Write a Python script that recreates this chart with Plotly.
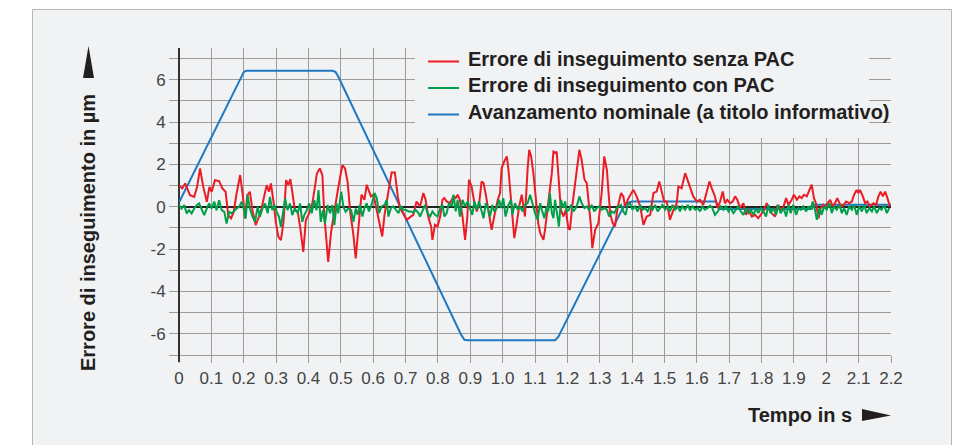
import plotly.graph_objects as go

# ---- data -------------------------------------------------------------
# following error without PAC (red), time in s, error in µm
t_red = [0.000, 0.010, 0.019, 0.027, 0.034, 0.047, 0.056, 0.065, 0.075, 0.086,
         0.094, 0.101, 0.111, 0.124, 0.134, 0.144, 0.152, 0.161, 0.169, 0.178,
         0.189, 0.197, 0.204, 0.211, 0.219, 0.227, 0.237, 0.247, 0.255, 0.264,
         0.271, 0.278, 0.284, 0.292, 0.299, 0.307, 0.315, 0.323, 0.331, 0.338,
         0.344, 0.350, 0.358, 0.367, 0.375, 0.384, 0.392, 0.402, 0.412, 0.420,
         0.426, 0.435, 0.443, 0.449, 0.456, 0.461, 0.470, 0.480, 0.490, 0.499,
         0.505, 0.513, 0.521, 0.529, 0.539, 0.546, 0.554, 0.559, 0.564, 0.573,
         0.580, 0.587, 0.593, 0.601, 0.608, 0.614, 0.621, 0.628, 0.635, 0.642,
         0.649, 0.657, 0.667, 0.676, 0.683, 0.693, 0.704, 0.714, 0.724, 0.734,
         0.745, 0.755, 0.762, 0.770, 0.779, 0.783, 0.791, 0.799, 0.807, 0.814,
         0.820, 0.827, 0.837, 0.848, 0.855, 0.861, 0.868, 0.876, 0.884, 0.891,
         0.896, 0.904, 0.913, 0.920, 0.927, 0.935, 0.941, 0.948, 0.954, 0.961,
         0.966, 0.974, 0.985, 0.992, 0.997, 1.005, 1.013, 1.018, 1.023, 1.028,
         1.036, 1.043, 1.051, 1.059, 1.069, 1.077, 1.082, 1.088, 1.095, 1.102,
         1.110, 1.116, 1.126, 1.131, 1.139, 1.143, 1.152, 1.157, 1.164, 1.167,
         1.174, 1.180, 1.188, 1.195, 1.203, 1.208, 1.215, 1.229, 1.237, 1.244,
         1.253, 1.260, 1.267, 1.273, 1.277, 1.286, 1.296, 1.306, 1.314, 1.322,
         1.332, 1.340, 1.347, 1.356, 1.366, 1.373, 1.378, 1.389, 1.404, 1.414,
         1.425, 1.435, 1.445, 1.456, 1.466, 1.476, 1.484, 1.492, 1.499, 1.507,
         1.517, 1.528, 1.538, 1.543, 1.553, 1.564, 1.571, 1.579, 1.589, 1.600,
         1.610, 1.620, 1.631, 1.639, 1.646, 1.656, 1.664, 1.672, 1.680, 1.687,
         1.694, 1.703, 1.711, 1.718, 1.725, 1.734, 1.744, 1.752, 1.759, 1.770,
         1.780, 1.790, 1.801, 1.808, 1.816, 1.824, 1.831, 1.842, 1.849, 1.857,
         1.868, 1.876, 1.883, 1.893, 1.900, 1.909, 1.917, 1.924, 1.931, 1.940,
         1.948, 1.955, 1.962, 1.968, 1.976, 1.983, 1.991, 1.996, 2.004, 2.012,
         2.020, 2.027, 2.034, 2.043, 2.051, 2.061, 2.071, 2.079, 2.086, 2.094,
         2.099, 2.104, 2.113, 2.120, 2.127, 2.135, 2.146, 2.154, 2.161, 2.168,
         2.175, 2.182, 2.189, 2.197]
err_red = [1.02, 0.87, 1.10, 0.79, 0.55, 0.47, 0.94, 1.81, 0.94, 0.24,
           0.94, 0.71, 1.26, 1.21, 0.87, 0.71, -0.39, -0.55, -0.24, 0.63,
           1.50, 0.55, -0.55, 0.55, 0.71, -0.16, -0.87, -0.47, -0.08, 0.55,
           1.02, 0.71, 1.10, 0.24, -0.71, -1.42, -1.57, -0.71, 1.26, 1.02,
           1.31, 0.71, -0.16, -0.24, -1.02, -2.13, -0.63, -0.31, 0.16, 0.94,
           1.57, 1.81, 1.50, -0.39, -1.65, -2.60, -1.18, -0.16, 0.71, 1.50,
           1.97, 1.81, 1.18, -0.24, -1.34, -2.44, -0.80, -0.22, 0.57, 0.33,
           1.04, 0.72, 0.49, 0.57, 0.02, -0.46, -0.93, -1.40, -0.38, 0.33,
           0.88, 1.62, 1.62, 0.49, -0.06, -0.30, -0.61, -0.49, -0.38, 0.25,
           0.02, 0.65, 0.33, -0.46, -0.93, -1.56, -0.85, -0.93, -0.46, 0.33,
           0.41, 0.25, 0.17, 0.49, 0.41, 0.57, 0.33, -0.46, -1.56, -0.46,
           1.28, 0.96, 0.17, -0.22, 0.09, 1.20, 1.12, 0.57, -0.06, -0.61,
           -1.09, -0.46, 0.33, 0.65, 1.83, 2.14, 2.38, 1.75, 0.80, -0.30,
           -1.48, -0.85, 0.02, 0.57, -0.46, 1.75, 2.69, 2.38, 1.59, 0.49,
           -0.77, -1.24, -1.56, -1.09, 0.02, 0.33, 1.59, 2.61, 2.54, 2.61,
           1.28, -0.14, -0.46, -0.14, -1.01, -1.09, 0.02, 1.91, 2.69, 2.22,
           1.28, 1.12, 0.02, -0.93, -1.95, -1.09, -0.77, 0.65, 2.38, 1.75,
           -0.30, -0.77, -0.93, 0.02, 0.65, 0.49, 0.02, 0.41, 0.80, 0.49,
           0.02, -0.85, -0.46, -0.38, 0.65, 0.72, 1.20, 0.65, 0.25, 0.25,
           -0.61, -0.14, 0.17, 0.96, 0.88, 1.59, 1.28, 0.96, 0.49, 0.25,
           0.33, 0.09, 0.72, 1.20, 0.88, 0.49, -0.06, 0.25, 0.72, 0.17,
           0.33, 0.17, 0.25, 0.49, 0.33, -0.06, 0.17, -0.38, -0.14, -0.46,
           -0.38, -0.54, -0.30, -0.14, 0.17, -0.14, -0.30, -0.46, 0.09, -0.14,
           0.02, 0.41, 0.09, 0.33, 0.57, 0.33, 0.49, 0.41, 0.57, 0.49,
           0.80, 1.04, 0.41, 0.17, -0.54, -0.06, 0.09, -0.06, 0.17, 0.33,
           0.02, 0.17, 0.41, 0.09, 0.02, 0.25, 0.17, 0.25, 0.57, 0.80,
           0.65, 0.80, 0.49, 0.17, 0.25, 0.02, 0.17, 0.09, 0.49, 0.72,
           0.49, 0.72, 0.41, 0.02]

# following error with PAC (green)
t_green = [0.000, 0.008, 0.016, 0.024, 0.031, 0.039, 0.047, 0.055, 0.062, 0.070,
           0.078, 0.086, 0.093, 0.101, 0.109, 0.116, 0.124, 0.132, 0.140, 0.147,
           0.155, 0.163, 0.171, 0.178, 0.186, 0.194, 0.201, 0.206, 0.212, 0.219,
           0.227, 0.235, 0.243, 0.250, 0.258, 0.266, 0.274, 0.281, 0.288, 0.295,
           0.302, 0.309, 0.315, 0.322, 0.328, 0.335, 0.343, 0.350, 0.358, 0.367,
           0.374, 0.381, 0.387, 0.395, 0.402, 0.410, 0.418, 0.425, 0.431, 0.438,
           0.445, 0.451, 0.459, 0.467, 0.474, 0.480, 0.487, 0.492, 0.501, 0.508,
           0.515, 0.523, 0.532, 0.539, 0.546, 0.552, 0.559, 0.567, 0.573, 0.580,
           0.587, 0.595, 0.604, 0.611, 0.618, 0.626, 0.635, 0.642, 0.647, 0.655,
           0.662, 0.670, 0.678, 0.686, 0.693, 0.700, 0.709, 0.717, 0.724, 0.731,
           0.740, 0.745, 0.752, 0.760, 0.768, 0.776, 0.783, 0.791, 0.799, 0.807,
           0.814, 0.820, 0.827, 0.834, 0.843, 0.848, 0.855, 0.861, 0.868, 0.876,
           0.884, 0.892, 0.899, 0.906, 0.913, 0.920, 0.927, 0.935, 0.941, 0.948,
           0.954, 0.961, 0.968, 0.974, 0.982, 0.989, 0.995, 1.002, 1.009, 1.018,
           1.026, 1.030, 1.038, 1.047, 1.054, 1.061, 1.069, 1.077, 1.085, 1.092,
           1.100, 1.108, 1.116, 1.121, 1.129, 1.136, 1.141, 1.146, 1.152, 1.157,
           1.162, 1.167, 1.174, 1.180, 1.188, 1.193, 1.198, 1.205, 1.211, 1.219,
           1.226, 1.232, 1.237, 1.244, 1.253, 1.260, 1.267, 1.275, 1.283, 1.291,
           1.298, 1.306, 1.314, 1.322, 1.329, 1.337, 1.345, 1.352, 1.360, 1.366,
           1.373, 1.380, 1.386, 1.394, 1.401, 1.409, 1.417, 1.425, 1.432, 1.440,
           1.448, 1.456, 1.463, 1.471, 1.479, 1.486, 1.494, 1.502, 1.510, 1.517,
           1.525, 1.533, 1.541, 1.548, 1.555, 1.564, 1.572, 1.579, 1.586, 1.595,
           1.603, 1.610, 1.617, 1.625, 1.634, 1.641, 1.648, 1.656, 1.665, 1.674,
           1.682, 1.690, 1.698, 1.705, 1.713, 1.721, 1.728, 1.736, 1.744, 1.752,
           1.759, 1.767, 1.775, 1.783, 1.790, 1.798, 1.806, 1.814, 1.821, 1.828,
           1.837, 1.845, 1.852, 1.859, 1.868, 1.876, 1.883, 1.890, 1.898, 1.907,
           1.914, 1.921, 1.929, 1.938, 1.945, 1.952, 1.958, 1.965, 1.971, 1.979,
           1.986, 1.993, 2.001, 2.010, 2.017, 2.024, 2.032, 2.041, 2.048, 2.055,
           2.063, 2.071, 2.079, 2.086, 2.094, 2.102, 2.110, 2.117, 2.125, 2.133,
           2.141, 2.148, 2.156, 2.164, 2.171, 2.179, 2.187, 2.195]
err_green = [0.08, -0.08, 0.08, -0.31, -0.16, -0.31, -0.08, 0.08, 0.16, -0.16,
             -0.39, -0.08, 0.16, -0.08, 0.24, -0.16, 0.31, -0.16, -0.24, -0.79,
             -0.24, -0.31, -0.16, -0.08, 0.00, 0.24, -0.16, -0.55, 0.55, -0.08,
             -0.47, -0.71, 0.00, -0.47, -0.08, 0.16, -0.31, 0.47, -0.16, 0.08,
             -0.24, -0.47, -0.94, -0.24, 0.39, -0.16, 0.16, -0.39, -0.08, -0.31,
             0.16, -0.71, -0.39, -0.16, 0.16, -0.31, 0.31, -0.16, 0.79, -0.71,
             -0.16, -0.79, 0.08, -0.31, 0.08, -0.87, 0.16, -0.31, 0.71, 0.00,
             -0.24, -0.08, -0.16, -0.71, -0.08, -0.38, 0.09, -0.46, -0.06, 0.17,
             -0.22, 0.09, 0.65, 0.41, -0.30, 0.02, 0.09, 0.33, -0.46, -0.06,
             0.02, -0.14, -0.30, 0.02, -0.14, -0.14, -0.22, -0.22, -0.27, -0.14,
             -0.30, -0.46, -0.22, 0.09, -0.30, -0.46, -0.22, -0.38, -0.46, -0.06,
             0.09, -0.46, -0.30, 0.17, 0.02, 0.57, -0.22, 0.33, -0.46, 0.33,
             0.02, 0.25, -0.06, -0.38, 0.25, -0.14, 0.25, -0.14, -0.54, 0.17,
             -0.06, -0.46, 0.09, -0.22, -0.06, 0.33, -0.06, 0.41, -0.46, 0.09,
             0.33, -0.38, 0.17, -0.14, 0.02, -0.22, 0.09, 0.17, 0.57, 0.17,
             -0.30, -0.61, 0.17, -0.14, -0.54, 0.02, -0.22, 0.65, -0.30, -0.54,
             0.33, -0.22, -0.93, 0.33, -0.06, 0.25, -0.22, -0.14, 0.09, -0.22,
             -0.06, 0.17, 0.49, 0.17, -0.06, 0.02, -0.14, 0.09, -0.22, -0.06,
             0.02, -0.14, -0.06, -0.14, -0.46, -0.22, -0.30, -0.06, 0.02, 0.09,
             -0.22, -0.38, 0.09, 0.17, -0.14, 0.02, -0.22, 0.09, -0.14, -0.06,
             -0.22, 0.02, -0.14, 0.09, -0.22, -0.06, 0.09, -0.14, 0.02, -0.22,
             0.09, -0.14, 0.02, -0.22, 0.02, -0.14, 0.09, -0.17, 0.02, -0.14,
             -0.06, -0.22, 0.02, -0.14, -0.06, 0.05, -0.06, -0.38, -0.22, 0.02,
             -0.14, 0.02, -0.22, -0.06, -0.30, -0.14, 0.02, -0.22, -0.38, -0.06,
             -0.30, -0.14, -0.38, -0.06, -0.30, -0.06, -0.22, -0.46, 0.09, -0.30,
             -0.06, -0.38, 0.09, -0.30, -0.06, -0.46, 0.09, -0.30, 0.09, -0.38,
             -0.06, -0.14, 0.02, -0.22, 0.02, -0.14, 0.25, -0.14, -0.61, -0.06,
             -0.38, 0.02, -0.14, 0.17, -0.30, 0.02, -0.14, 0.09, -0.30, -0.06,
             -0.38, 0.02, -0.14, 0.09, -0.38, 0.02, -0.22, 0.09, -0.30, -0.06,
             -0.22, 0.02, -0.30, -0.06, -0.14, 0.09, -0.30, -0.06]

# nominal feed (blue), shown for reference only
t_feed = [0.000, 0.193, 0.200, 0.207, 0.475, 0.484, 0.492, 0.872, 0.882, 0.892,
          1.162, 1.172, 1.370, 1.385, 1.400, 1.660, 1.668, 1.955, 1.962, 2.200]
feed = [0.20, 6.20, 6.36, 6.42, 6.42, 6.36, 6.15, -6.05, -6.28, -6.30,
        -6.30, -6.15, -0.10, 0.18, 0.25, 0.25, -0.10, -0.10, 0.10, 0.10]

x_ticks = [round(0.1 * i, 1) for i in range(23)]
x_labels = ["0", "0.1", "0.2", "0.3", "0.4", "0.5", "0.6", "0.7", "0.8", "0.9",
            "1.0", "1.1", "1.2", "1.3", "1.4", "1.5", "1.6", "1.7", "1.8", "1.9",
            "2", "2.1", "2.2"]
y_ticks = list(range(-7, 8))
y_labels = [str(v) if v % 2 == 0 and abs(v) < 7 else "" for v in y_ticks]

legend_names = ["Errore di inseguimento senza PAC",
                "Errore di inseguimento con PAC",
                "Avanzamento nominale (a titolo informativo)"]
legend_colors = ["#ec1c24", "#00a04a", "#1f78c1"]

# ---- layout geometry (pixels) ------------------------------------------
W, H = 969, 445
L, R, T, B = 179, 891, 48, 355
PANEL = "#f1f2f4"
GRID = "#9c9c9c"
TEXT = "#231f20"
FONT = "Liberation Sans, Arial, sans-serif"


def px(x):
    return (x - L) / (R - L)


def py(y):
    return (B - y) / (B - T)


fig = go.Figure()

fig.add_trace(go.Scatter(x=t_feed, y=feed, mode="lines", name=legend_names[2],
                         line=dict(color=legend_colors[2], width=2)))
fig.add_trace(go.Scatter(x=t_red, y=err_red, mode="lines", name=legend_names[0],
                         line=dict(color=legend_colors[0], width=2)))
fig.add_trace(go.Scatter(x=t_green, y=err_green, mode="lines", name=legend_names[1],
                         line=dict(color=legend_colors[1], width=2)))

shapes = [
    # grey panel behind the chart
    dict(type="rect", xref="paper", yref="paper", layer="below",
         x0=px(32.5), x1=px(951.5), y0=py(460), y1=py(9.5),
         fillcolor=PANEL, line=dict(color="#b5b5b5", width=1)),
    # legend area masks the grid
    dict(type="rect", xref="x", yref="y", layer="above",
         x0=0.729, x1=2.132, y0=3.25, y1=7.6,
         fillcolor=PANEL, line=dict(width=0)),
    # extension of the vertical axis below the time axis
    dict(type="line", xref="paper", yref="paper", layer="above",
         x0=0, x1=0, y0=py(362), y1=0, line=dict(color="#333333", width=2)),
    # arrow on the y title
    dict(type="path", xref="paper", yref="paper", layer="above",
         path=f"M {px(88.5)},{py(46)} L {px(94)},{py(78)} L {px(83)},{py(78)} Z",
         fillcolor=TEXT, line=dict(width=0)),
    # arrow on the x title
    dict(type="path", xref="paper", yref="paper", layer="above",
         path=f"M {px(862)},{py(409)} L {px(891)},{py(415.5)} L {px(862)},{py(421)} Z",
         fillcolor=TEXT, line=dict(width=0)),
]

annotations = [
    dict(text="<b>Errore di inseguimento in µm</b>", xref="paper", yref="paper",
         x=px(88), y=py(233), textangle=-90, showarrow=False,
         xanchor="center", yanchor="middle",
         font=dict(family=FONT, size=20, color=TEXT)),
    dict(text="<b>Tempo in s</b>", xref="paper", yref="paper",
         x=px(800), y=py(415), showarrow=False,
         xanchor="center", yanchor="middle",
         font=dict(family=FONT, size=20, color=TEXT)),
]

# legend: short coloured line + bold label per series
legend_rows = [58.5, 85.0, 111.5]
for name, color, row in zip(legend_names, legend_colors, legend_rows):
    shapes.append(dict(type="line", xref="paper", yref="paper", layer="above",
                       x0=px(428), x1=px(459), y0=py(row + 3), y1=py(row + 3),
                       line=dict(color=color, width=2)))
    annotations.append(dict(text=f"<b>{name}</b>", xref="paper", yref="paper",
                            x=px(466), y=py(row), showarrow=False,
                            xanchor="left", yanchor="middle",
                            font=dict(family=FONT, size=20, color=TEXT)))

fig.update_layout(
    width=W, height=H,
    margin=dict(l=L, r=W - R, t=T, b=H - B, pad=0),
    paper_bgcolor="white",
    plot_bgcolor=PANEL,
    shapes=shapes,
    annotations=annotations,
    showlegend=False,
    xaxis=dict(range=[0, 2.2], tickvals=x_ticks, ticktext=x_labels,
               showgrid=True, gridcolor=GRID, gridwidth=1.3,
               ticks="outside", ticklen=7, tickcolor=GRID, tickwidth=1.3,
               showline=True, linecolor=GRID, linewidth=1.3,
               zeroline=True, zerolinecolor="#333333", zerolinewidth=2,
               tickfont=dict(family=FONT, size=17, color="#444444"),
               fixedrange=True),
    yaxis=dict(range=[-7, 7.5], tickvals=y_ticks, ticktext=y_labels,
               showgrid=True, gridcolor=GRID, gridwidth=1.3,
               ticks="outside", ticklen=9, tickcolor=GRID, tickwidth=1.3,
               showline=False,
               zeroline=True, zerolinecolor="#222222", zerolinewidth=2,
               tickfont=dict(family=FONT, size=17, color="#444444"),
               fixedrange=True),
)

fig.write_html("out.html")
